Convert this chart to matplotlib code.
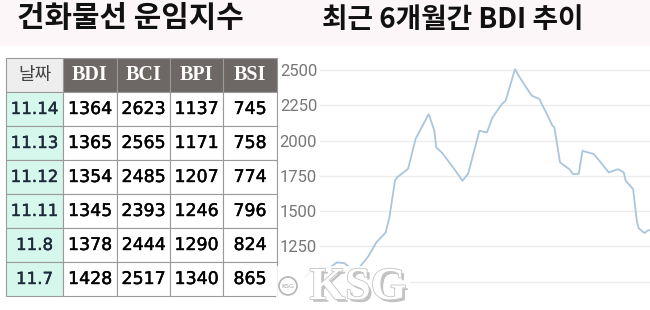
import matplotlib
matplotlib.use("Agg")
import matplotlib.pyplot as plt
import matplotlib.patheffects as pe
from matplotlib.patches import Rectangle, Circle
import pandas as pd

# dry bulk freight indices (table)
dates = ['11.14', '11.13', '11.12', '11.11', '11.8', '11.7']
bdi = [1364, 1365, 1354, 1345, 1378, 1428]
bci = [2623, 2565, 2485, 2393, 2444, 2517]
bpi = [1137, 1171, 1207, 1246, 1290, 1340]
bsi = [745, 758, 774, 796, 824, 865]
headers = ['날짜', 'BDI', 'BCI', 'BPI', 'BSI']

# BDI over the last 6 months
trend_dates = ['2019-05-14', '2019-05-17', '2019-05-23', '2019-05-27', '2019-05-31',
               '2019-06-04', '2019-06-10', '2019-06-12', '2019-06-17', '2019-06-21',
               '2019-06-26', '2019-06-28', '2019-07-01', '2019-07-02', '2019-07-08',
               '2019-07-12', '2019-07-18', '2019-07-19', '2019-07-22', '2019-07-23',
               '2019-07-26', '2019-08-01', '2019-08-06', '2019-08-09', '2019-08-15',
               '2019-08-19', '2019-08-22', '2019-08-27', '2019-08-29', '2019-09-03',
               '2019-09-05', '2019-09-09', '2019-09-12', '2019-09-16', '2019-09-20',
               '2019-09-23', '2019-09-24', '2019-09-27', '2019-10-02', '2019-10-04',
               '2019-10-07', '2019-10-09', '2019-10-15', '2019-10-18', '2019-10-23',
               '2019-10-28', '2019-10-31', '2019-11-01', '2019-11-05', '2019-11-06',
               '2019-11-07', '2019-11-08', '2019-11-11', '2019-11-12', '2019-11-13',
               '2019-11-14']
trend_bdi = [1035, 1066, 1101, 1097, 1137,
             1132, 1066, 1101, 1184, 1278,
             1349, 1455, 1715, 1738, 1800,
             2012, 2163, 2187, 2069, 1951,
             1915, 1809, 1715, 1765, 2069,
             2057, 2163, 2258, 2282, 2505,
             2458, 2375, 2317, 2294, 2187,
             2104, 2093, 1845, 1797, 1762,
             1765, 1927, 1904, 1857, 1774,
             1797, 1774, 1715, 1656, 1540,
             1428, 1378, 1345, 1354, 1365,
             1364]
y_ticks = [1000, 1250, 1500, 1750, 2000, 2250, 2500]

W, H = 650, 310
CJK = ['Noto Sans CJK KR', 'DejaVu Sans']

fig = plt.figure(figsize=(6.5, 3.1), dpi=100)
fig.patch.set_facecolor('white')

# --- line chart (right) ---
ax = fig.add_axes([320 / W, 0, 330 / W, 260 / H])
x = pd.to_datetime(trend_dates)
ax.plot(x, trend_bdi, color='#a9c6dc', linewidth=1.3, clip_on=False, zorder=3)
end = pd.Timestamp('2019-11-14')
ax.set_xlim(end - pd.Timedelta(days=176), end)
ax.set_ylim(800, 2641)
ax.set_yticks(y_ticks)
# the 1000 label sits under the KSG watermark in the original, so leave it blank
ax.set_yticklabels(['' if v == 1000 else f'{v}' for v in y_ticks])
ax.set_xticks([])
ax.grid(axis='y', color='#ececec', linewidth=1)
ax.tick_params(axis='y', length=0, pad=2, labelsize=12, labelcolor='#777777')
for lab in ax.get_yticklabels():
    lab.set_family('Roboto')
for s in ax.spines.values():
    s.set_visible(False)

# --- overlay in pixel coords: titles, table, watermark ---
ov = fig.add_axes([0, 0, 1, 1], zorder=5)
ov.set_xlim(0, W)
ov.set_ylim(H, 0)
ov.axis('off')

ov.add_patch(Rectangle((0, 0), W, 46, facecolor='#fdf6f8', edgecolor='none', zorder=0))
ov.text(130, 18, '건화물선 운임지수', ha='center', va='center', fontsize=21.5,
        fontweight='bold', family=CJK, color='#111111')
ov.text(453, 20, '최근 6개월간 BDI 추이', ha='center', va='center', fontsize=20,
        fontweight='bold', family=CJK, color='#111111')

cell_text = [[d, str(a), str(b), str(c), str(e)]
             for d, a, b, c, e in zip(dates, bdi, bci, bpi, bsi)]
tbl = ov.table(cellText=cell_text, colLabels=headers, cellLoc='center',
               colWidths=[57, 54, 53, 53, 54],
               bbox=[6 / W, 1 - 296 / H, 271 / W, 238 / H])
tbl.auto_set_font_size(False)
for (r, c), cell in tbl.get_celld().items():
    cell.set_edgecolor('#9a9a9a')
    cell.set_linewidth(0.8)
    t = cell.get_text()
    if r == 0:
        if c == 0:
            cell.set_facecolor('#eeeeee')
            t.set_fontfamily(CJK)
            t.set_fontsize(13)
            t.set_color('#444444')
        else:
            cell.set_facecolor('#6d6765')
            t.set_fontfamily('Liberation Serif')
            t.set_fontweight('bold')
            t.set_fontsize(14.5)
            t.set_color('white')
    elif c == 0:
        cell.set_facecolor('#d6f8ec')
        t.set_fontfamily('DejaVu Sans')
        t.set_fontsize(12)
        t.set_color('#1c2a3a')
        t.set_path_effects([pe.Stroke(linewidth=0.3, foreground='#1c2a3a'), pe.Normal()])
    else:
        cell.set_facecolor('white')
        t.set_fontfamily('DejaVu Sans')
        t.set_fontsize(12.5)
        t.set_color('black')
        t.set_path_effects([pe.Stroke(linewidth=0.3, foreground='black'), pe.Normal()])

# KSG watermark
ov.add_patch(Rectangle((276, 266), 134, 44, facecolor='white', edgecolor='none',
                       alpha=0.85, zorder=4))
ov.add_patch(Circle((288, 286), 9, facecolor='white', edgecolor='#b5b5b5',
                    linewidth=1.2, zorder=5))
ov.text(288, 286, 'KSG', ha='center', va='center', fontsize=4.5,
        color='#a0a0a0', zorder=6)
ov.text(358, 299, 'KSG', ha='center', va='baseline', fontsize=33,
        fontweight='bold', family='Liberation Serif', color='white', zorder=6,
        path_effects=[pe.withSimplePatchShadow(offset=(2, -2), shadow_rgbFace='#9a9a9a', alpha=0.6),
                      pe.Stroke(linewidth=1.2, foreground='#c4c4c4'), pe.Normal()])

fig.savefig('out.png', dpi=100)
